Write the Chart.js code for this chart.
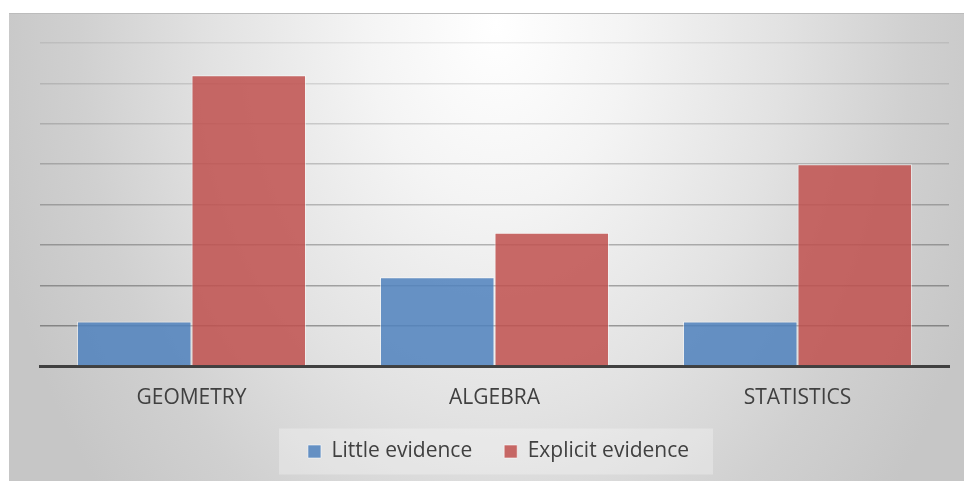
<!DOCTYPE html>
<html>
<head>
<meta charset="utf-8">
<script src="https://cdn.jsdelivr.net/npm/chart.js@4/dist/chart.umd.min.js"></script>
<style>
  html, body { margin: 0; padding: 0; background: #ffffff; width: 964px; height: 481px; overflow: hidden; }
  #frame {
    position: absolute; left: 9px; top: 13px; width: 955px; height: 467px;
    border-top: 1px solid #bcbcbc;
    background: radial-gradient(ellipse 520px 720px at 51% 2%, #ffffff 0%, #f4f4f4 25%, #e2e2e2 55%, #d0d0d0 80%, #c6c6c6 100%);
  }
  #c { position: absolute; left: 0; top: 0; }
</style>
</head>
<body>
<div id="frame"><canvas id="c" width="955" height="467"></canvas></div>
<script>
const categories = ['GEOMETRY', 'ALGEBRA', 'STATISTICS'];
const littleEvidence = [1.1, 2.2, 1.1];
const explicitEvidence = [7.2, 3.3, 5.0];
const seriesNames = ['Little evidence', 'Explicit evidence'];

const legendBg = {
  id: 'legendBg',
  beforeDraw(chart) {
    const lg = chart.legend;
    if (!lg || !lg.legendHitBoxes || !lg.legendHitBoxes.length) return;
    const hb = lg.legendHitBoxes;
    const left = Math.min(...hb.map(b => b.left)) - 29;
    const right = Math.max(...hb.map(b => b.left + b.width)) + 24;
    const cy = hb[0].top + hb[0].height / 2;
    const ctx = chart.ctx;
    ctx.save();
    ctx.fillStyle = 'rgba(255,255,255,0.28)';
    ctx.fillRect(left, cy - 23, right - left, 46);
    ctx.restore();
  }
};

new Chart(document.getElementById('c'), {
  type: 'bar',
  data: {
    labels: categories,
    datasets: [
      {
        label: seriesNames[0],
        data: littleEvidence,
        backgroundColor: 'rgba(79,129,189,0.85)',
        borderColor: 'rgba(255,255,255,0.55)',
        borderWidth: 1,
        categoryPercentage: 0.756,
        barPercentage: 1.0
      },
      {
        label: seriesNames[1],
        data: explicitEvidence,
        backgroundColor: 'rgba(192,80,77,0.85)',
        borderColor: 'rgba(255,255,255,0.55)',
        borderWidth: 1,
        categoryPercentage: 0.756,
        barPercentage: 1.0
      }
    ]
  },
  plugins: [legendBg],
  options: {
    responsive: false,
    animation: false,
    layout: { padding: { left: 31, right: 7, top: 29, bottom: 9 } },
    plugins: {
      tooltip: { enabled: false },
      legend: {
        position: 'bottom',
        labels: {
          boxWidth: 13,
          boxHeight: 13,
          padding: 32,
          color: '#404040',
          font: { family: '"Open Sans", sans-serif', size: 21 }
        }
      }
    },
    scales: {
      x: {
        grid: { display: false, drawTicks: false },
        border: { display: true, color: '#404040', width: 3 },
        ticks: {
          padding: 9,
          color: '#404040',
          font: { family: '"Open Sans", sans-serif', size: 21, lineHeight: '46px' }
        },
        afterFit: (s) => { s.height = 43; }
      },
      y: {
        min: 0,
        max: 8,
        ticks: { display: false, stepSize: 1 },
        border: { display: false },
        grid: {
          drawTicks: false,
          lineWidth: 1.5,
          color: (ctx) => {
            const v = ctx.tick ? ctx.tick.value : 0;
            const a = 0.34 - (v - 1) * 0.038;
            return 'rgba(0,0,0,' + a.toFixed(3) + ')';
          }
        },
        afterFit: (s) => { s.width = 0; }
      },
      yRight: {
        type: 'linear',
        position: 'right',
        display: true,
        ticks: { display: false },
        border: { display: false },
        grid: { display: false, drawTicks: false },
        afterFit: (s) => { s.width = 8; }
      }
    }
  }
});
</script>
</body>
</html>
